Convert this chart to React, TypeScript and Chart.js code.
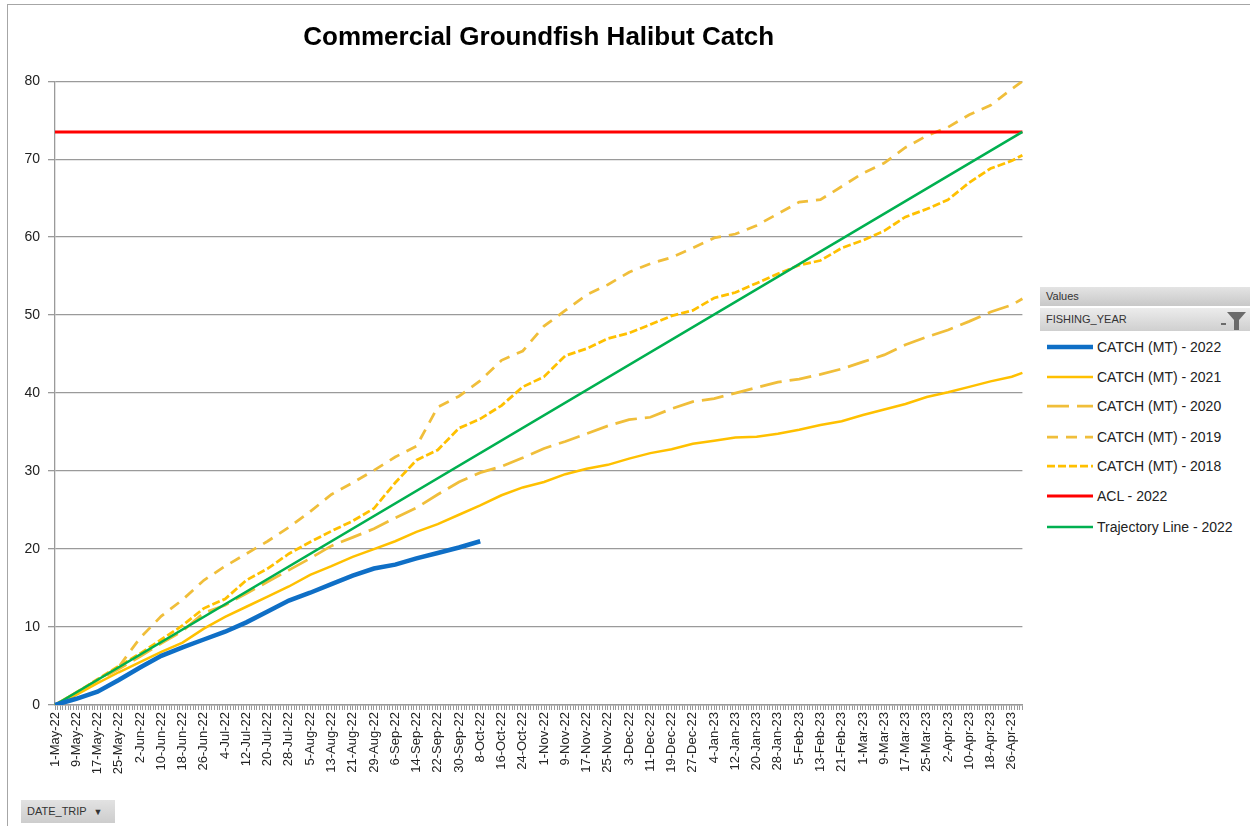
import React, { useEffect, useRef } from 'react';
import { Chart, registerables } from 'chart.js';

Chart.register(...registerables);

// ---------------- data ----------------
const TITLE = 'Commercial Groundfish Halibut Catch';
const MONTHS = ['Jan', 'Feb', 'Mar', 'Apr', 'May', 'Jun', 'Jul', 'Aug', 'Sep', 'Oct', 'Nov', 'Dec'];
const SEASON_START_YEAR = 2022;
const SEASON_START_MONTH = 4; // May (0-based)
const SEASON_DAYS = 365;
const LABEL_EVERY = 8;

const SAMPLE_DATES = [
  '1-May-22', '9-May-22', '17-May-22', '25-May-22', '2-Jun-22', '10-Jun-22', '18-Jun-22', '26-Jun-22',
  '4-Jul-22', '12-Jul-22', '20-Jul-22', '28-Jul-22', '5-Aug-22', '13-Aug-22', '21-Aug-22', '29-Aug-22',
  '6-Sep-22', '14-Sep-22', '22-Sep-22', '30-Sep-22', '8-Oct-22', '16-Oct-22', '24-Oct-22', '1-Nov-22',
  '9-Nov-22', '17-Nov-22', '25-Nov-22', '3-Dec-22', '11-Dec-22', '19-Dec-22', '27-Dec-22', '4-Jan-23',
  '12-Jan-23', '20-Jan-23', '28-Jan-23', '5-Feb-23', '13-Feb-23', '21-Feb-23', '1-Mar-23', '9-Mar-23',
  '17-Mar-23', '25-Mar-23', '2-Apr-23', '10-Apr-23', '18-Apr-23', '26-Apr-23', '30-Apr-23',
];

const CATCH_2022 = [
  0, 0.8, 1.7, 3.2, 4.8, 6.3, 7.4, 8.4, 9.4, 10.6, 12.0, 13.4, 14.4, 15.5, 16.6, 17.5, 18.0, 18.8, 19.5, 20.2, 21.0,
];

const CATCH_2021 = [
  0, 1.3, 2.8, 4.2, 5.5, 6.8, 8.0, 9.8, 11.3, 12.6, 13.9, 15.2, 16.7, 17.8, 19.0, 20.0,
  21.0, 22.2, 23.2, 24.4, 25.6, 26.9, 27.9, 28.6, 29.6, 30.3, 30.8, 31.6, 32.3, 32.8, 33.5, 33.9,
  34.3, 34.4, 34.8, 35.3, 35.9, 36.4, 37.2, 37.9, 38.6, 39.5, 40.1, 40.8, 41.5, 42.1, 42.6,
];

const CATCH_2020 = [
  0, 1.6, 3.2, 4.6, 6.2, 7.9, 9.5, 11.8, 12.8, 14.3, 15.8, 17.3, 18.8, 20.4, 21.5, 22.6,
  24.0, 25.3, 27.0, 28.6, 29.8, 30.6, 31.7, 32.9, 33.8, 34.8, 35.8, 36.6, 36.9, 38.0, 38.9, 39.3,
  40.0, 40.7, 41.4, 41.8, 42.4, 43.1, 44.0, 44.9, 46.2, 47.2, 48.1, 49.2, 50.4, 51.3, 52.1,
];

const CATCH_2019 = [
  0, 1.6, 3.2, 4.9, 8.6, 11.4, 13.5, 16.0, 17.8, 19.4, 21.0, 22.8, 24.8, 27.0, 28.5, 30.1,
  31.8, 33.2, 38.2, 39.6, 41.6, 44.2, 45.4, 48.6, 50.6, 52.6, 53.9, 55.5, 56.6, 57.4, 58.6, 59.9,
  60.4, 61.5, 63.0, 64.5, 64.8, 66.5, 68.2, 69.5, 71.5, 73.0, 74.1, 75.7, 76.9, 79.0, 80.0,
];

const CATCH_2018 = [
  0, 1.6, 3.3, 5.0, 6.6, 8.4, 10.2, 12.4, 13.6, 16.0, 17.5, 19.4, 20.9, 22.3, 23.6, 25.2,
  28.5, 31.4, 32.7, 35.5, 36.7, 38.4, 40.8, 42.1, 44.8, 45.7, 47.0, 47.7, 48.8, 49.9, 50.6, 52.2,
  52.9, 54.1, 55.3, 56.4, 57.0, 58.6, 59.6, 60.8, 62.6, 63.6, 64.8, 67.0, 68.8, 69.8, 70.5,
];

const LINE_DATES = ['1-May-22', '30-Apr-23'];
const ACL_2022 = [73.5, 73.5];
const TRAJECTORY_2022 = [0, 73.5];

const Y_MIN = 0;
const Y_MAX = 80;
const Y_STEP = 10;

const SERIES_NAMES = [
  'CATCH (MT) - 2022',
  'CATCH (MT) - 2021',
  'CATCH (MT) - 2020',
  'CATCH (MT) - 2019',
  'CATCH (MT) - 2018',
  'ACL - 2022',
  'Trajectory Line - 2022',
];

// ---------------- styles ----------------
const FONT = "'Liberation Sans', Arial, sans-serif";
const STYLES = [
  { color: '#0F6FC6', width: 4.5, dash: [] as number[] },
  { color: '#FFC000', width: 2.5, dash: [] as number[] },
  { color: '#F0BE3A', width: 2.75, dash: [22, 8] },
  { color: '#F0BE3A', width: 2.75, dash: [11, 8] },
  { color: '#FFC000', width: 2.75, dash: [8, 3] },
  { color: '#FF0000', width: 3, dash: [] as number[] },
  { color: '#00B050', width: 2.5, dash: [] as number[] },
];

function buildDayLabels(): string[] {
  const out: string[] = [];
  for (let i = 0; i < SEASON_DAYS; i++) {
    const d = new Date(Date.UTC(SEASON_START_YEAR, SEASON_START_MONTH, 1 + i));
    out.push(`${d.getUTCDate()}-${MONTHS[d.getUTCMonth()]}-${String(d.getUTCFullYear()).slice(2)}`);
  }
  return out;
}

function pairs(dates: string[], vals: number[]) {
  return vals.map((v, i) => ({ x: dates[i], y: v }));
}

function ChartCanvas() {
  const ref = useRef<HTMLCanvasElement | null>(null);
  useEffect(() => {
    if (!ref.current) return;
    const labels = buildDayLabels();
    const seriesData = [
      pairs(SAMPLE_DATES, CATCH_2022),
      pairs(SAMPLE_DATES, CATCH_2021),
      pairs(SAMPLE_DATES, CATCH_2020),
      pairs(SAMPLE_DATES, CATCH_2019),
      pairs(SAMPLE_DATES, CATCH_2018),
      pairs(LINE_DATES, ACL_2022),
      pairs(LINE_DATES, TRAJECTORY_2022),
    ];
    const drawOrder = [0, 6, 5, 1, 2, 3, 4];
    const datasets = SERIES_NAMES.map((name, i) => ({
      label: name,
      data: seriesData[i],
      borderColor: STYLES[i].color,
      backgroundColor: STYLES[i].color,
      borderWidth: STYLES[i].width,
      borderDash: STYLES[i].dash,
      pointRadius: 0,
      tension: 0,
      fill: false,
      spanGaps: true,
      order: drawOrder.indexOf(i),
    }));
    const chart = new Chart(ref.current, {
      type: 'line',
      data: { labels, datasets },
      options: {
        animation: false,
        responsive: false,
        devicePixelRatio: 1,
        layout: { padding: { left: 0, right: 12, top: 0, bottom: 0 } },
        plugins: {
          legend: { display: false },
          tooltip: { enabled: false },
          title: {
            display: true,
            text: TITLE,
            fullSize: false,
            color: '#000000',
            font: { family: FONT, size: 26, weight: 'bold' },
            padding: { top: 22, bottom: 28 },
          },
        },
        scales: {
          x: {
            type: 'category',
            offset: false,
            grid: {
              display: true,
              drawOnChartArea: false,
              drawTicks: true,
              tickLength: 5,
              color: '#9a9a9a',
              lineWidth: 1,
            },
            border: { display: true, color: '#9a9a9a', width: 1.5 },
            ticks: {
              autoSkip: false,
              minRotation: 90,
              maxRotation: 90,
              padding: 2,
              color: '#222222',
              font: { family: FONT, size: 13 },
              callback: (_v: any, index: number) => (index % LABEL_EVERY === 0 ? labels[index] : ''),
            },
            afterFit: (scale: any) => {
              scale.height = 121;
            },
          },
          y: {
            min: Y_MIN,
            max: Y_MAX,
            grid: {
              color: '#9a9a9a',
              lineWidth: 1.3,
              drawTicks: true,
              tickLength: 7,
            },
            border: { display: true, color: '#9a9a9a', width: 1.3 },
            ticks: {
              stepSize: Y_STEP,
              padding: 8,
              color: '#222222',
              font: { family: FONT, size: 14 },
            },
            afterFit: (scale: any) => {
              scale.width = 55;
            },
          },
        },
      },
    } as any);
    return () => chart.destroy();
  }, []);
  return <canvas ref={ref} width={1040} height={826} style={{ position: 'absolute', left: 0, top: 0 }} />;
}

function LegendSwatch({ idx }: { idx: number }) {
  const s = STYLES[idx];
  return (
    <svg width={46} height={10} style={{ position: 'absolute', left: 1047, top: -5 }}>
      <line
        x1={0}
        y1={5}
        x2={46}
        y2={5}
        stroke={s.color}
        strokeWidth={s.width}
        strokeDasharray={s.dash.length ? s.dash.join(' ') : undefined}
      />
    </svg>
  );
}

const ROW_Y = [347, 377, 406, 437, 466, 496, 527];

export default function App() {
  return (
    <div
      style={{
        position: 'fixed',
        left: 0,
        top: 0,
        width: 1250,
        height: 826,
        background: '#ffffff',
        overflow: 'hidden',
        fontFamily: FONT,
      }}
    >
      <ChartCanvas />
      {/* outer frame */}
      <div style={{ position: 'absolute', left: 7, top: 4, width: 1243, height: 1, background: '#a6a6a6' }} />
      <div style={{ position: 'absolute', left: 7, top: 4, width: 1, height: 822, background: '#a6a6a6' }} />

      {/* legend panel */}
      <div
        style={{
          position: 'absolute',
          left: 1040,
          top: 287,
          width: 210,
          height: 19,
          background: 'linear-gradient(#e4e4e4, #c8c8c8)',
          fontSize: 11,
          color: '#333',
          lineHeight: '19px',
          paddingLeft: 6,
          boxSizing: 'border-box',
        }}
      >
        Values
      </div>
      <div
        style={{
          position: 'absolute',
          left: 1040,
          top: 308,
          width: 210,
          height: 23,
          background: 'linear-gradient(#ececec, #cfcfcf)',
          fontSize: 11,
          color: '#333',
          lineHeight: '23px',
          paddingLeft: 6,
          boxSizing: 'border-box',
        }}
      >
        FISHING_YEAR
        <svg width={30} height={22} style={{ position: 'absolute', right: 2, top: 1 }}>
          <polygon points="9,3 28,3 21,11 21,21 16,21 16,11" fill="#6b6b6b" />
          <rect x={3} y={14} width={5} height={2} fill="#6b6b6b" />
        </svg>
      </div>
      {SERIES_NAMES.map((name, i) => (
        <div key={name} style={{ position: 'absolute', left: 0, top: ROW_Y[i], width: 1250, height: 0 }}>
          <LegendSwatch idx={i} />
          <div
            style={{
              position: 'absolute',
              left: 1097,
              top: -9,
              fontSize: 14,
              lineHeight: '18px',
              color: '#222',
              whiteSpace: 'nowrap',
            }}
          >
            {name}
          </div>
        </div>
      ))}

      {/* field button */}
      <div
        style={{
          position: 'absolute',
          left: 21,
          top: 800,
          width: 94,
          height: 23,
          background: 'linear-gradient(#e2e2e2, #cdcdcd)',
          fontSize: 11,
          color: '#333',
          lineHeight: '23px',
          paddingLeft: 6,
          boxSizing: 'border-box',
          whiteSpace: 'nowrap',
        }}
      >
        DATE_TRIP <span style={{ fontSize: 9, marginLeft: 4 }}>▼</span>
      </div>
    </div>
  );
}
